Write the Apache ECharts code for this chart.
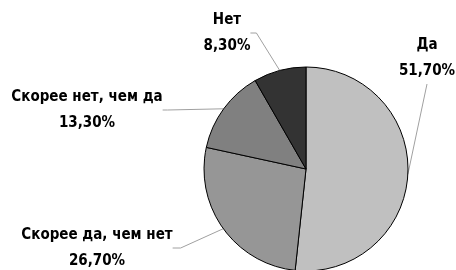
<!DOCTYPE html>
<html><head><meta charset="utf-8">
<script src="https://cdn.jsdelivr.net/npm/echarts@6/dist/echarts.min.js"></script>
<style>html,body{margin:0;padding:0;background:#fff}#c{width:456px;height:270px}</style>
</head><body><div id="c"></div>
<script>
var categories = ['Да', 'Скорее да, чем нет', 'Скорее нет, чем да', 'Нет'];
var values = [51.7, 26.7, 13.3, 8.3];
var colors = ['#c0c0c0', '#969696', '#808080', '#333333'];
// label block centres (x, y) and leader-line second segment lengths
var labelPos = [[427, 58], [97, 248], [87, 110], [227, 33]];
var leaderLen2 = [0, 8, 5, 6];

var chart = echarts.init(document.getElementById('c'), null, {renderer: 'canvas'});
chart.setOption({
  animation: false,
  series: [{
    type: 'pie',
    center: [306, 169],
    radius: 102,
    startAngle: 90,
    clockwise: true,
    data: categories.map(function (c, i) {
      return {
        name: c, value: values[i],
        itemStyle: {color: colors[i]},
        labelLine: {length2: leaderLen2[i]}
      };
    }),
    itemStyle: {borderColor: '#000', borderWidth: 1},
    label: {
      show: true,
      formatter: function (p) {
        return p.name + '\n' + p.value.toFixed(2).replace('.', ',') + '%';
      },
      fontFamily: 'DejaVu Sans Condensed',
      fontWeight: 'bold',
      fontSize: 15,
      lineHeight: 26,
      color: '#000',
      align: 'center',
      overflow: 'none'
    },
    labelLine: {show: true, lineStyle: {color: '#a0a0a0', width: 1}},
    labelLayout: function (p) {
      var pos = labelPos[p.dataIndex];
      return {x: pos[0], y: pos[1], align: 'center', verticalAlign: 'middle', hideOverlap: false};
    },
    emphasis: {disabled: true}
  }]
});
</script></body></html>
